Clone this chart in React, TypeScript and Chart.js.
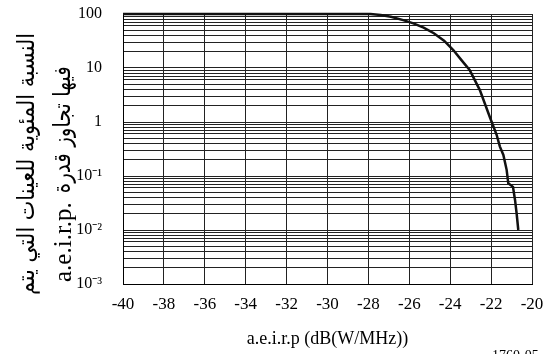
import { useEffect, useRef } from 'react';
import { Chart, registerables } from 'chart.js';

Chart.register(...registerables);

// ---- data ----
const X_VALUES = [-40, -28.4, -27.9, -27.4, -26.9, -26.3, -25.8, -25.3, -24.8, -24.3, -23.85, -23.45, -23.05, -22.55, -22.05, -21.73, -21.57, -21.4, -21.24, -21.16, -20.93, -20.83, -20.75, -20.67];
const Y_VALUES = [100, 100, 100, 96, 89, 77, 67, 56, 44, 32, 21.5, 14, 9.2, 3.9, 1.2, 0.58, 0.35, 0.245, 0.13, 0.073, 0.063, 0.036, 0.02, 0.01];

const X_MIN = -40;
const X_MAX = -20;
const X_STEP = 2;

const Y_DECADES = [0.001, 0.01, 0.1, 1, 10, 100];
const Y_DECADE_LABELS = ['10⁻³', '10⁻²', '10⁻¹', '1', '10', '100'];
const Y_MINOR_MULTIPLIERS = [2, 3, 4, 5, 6, 7, 8, 9];

const X_TITLE = 'a.e.i.r.p (dB(W/MHz))';
const Y_TITLE_LINE_1 = 'النسبة المئوية للعينات التي يتم';
const Y_TITLE_LINE_2_AR = 'فيها تجاوز قدرة';
const Y_TITLE_LINE_2_LAT = 'a.e.i.r.p.';
const FIGURE_ID = '1760-05';

const SERIF = "'Liberation Serif', 'Times New Roman', serif";
const ARABIC = "'DejaVu Sans', 'Noto Sans', sans-serif";

const yTitlePlugin = {
  id: 'yTitle',
  afterDraw(chart: any) {
    const ctx = chart.ctx;
    ctx.save();
    ctx.fillStyle = '#000';
    ctx.textBaseline = 'middle';

    // line 1 (outer): centred, compressed along its length to the reference span
    ctx.font = `24px ${ARABIC}`;
    const w1 = ctx.measureText(Y_TITLE_LINE_1).width;
    const len1 = 262;
    ctx.save();
    ctx.translate(28, 164);
    ctx.rotate(-Math.PI / 2);
    ctx.scale(len1 / w1, 1);
    ctx.textAlign = 'center';
    ctx.fillText(Y_TITLE_LINE_1, 0, 0);
    ctx.restore();

    // line 2: latin part from the bottom, then the arabic part
    ctx.save();
    ctx.translate(64, 282);
    ctx.rotate(-Math.PI / 2);
    ctx.textAlign = 'left';
    ctx.font = `25px ${SERIF}`;
    const wl = ctx.measureText(Y_TITLE_LINE_2_LAT).width;
    ctx.fillText(Y_TITLE_LINE_2_LAT, 0, 0);
    ctx.font = `24px ${ARABIC}`;
    const wa = ctx.measureText(Y_TITLE_LINE_2_AR).width;
    const lenA = 127;
    ctx.translate(wl + 9, 0);
    ctx.scale(lenA / wa, 1);
    ctx.fillText(Y_TITLE_LINE_2_AR, 0, 0);
    ctx.restore();

    ctx.restore();
  },
};

export default function App() {
  const canvasRef = useRef<HTMLCanvasElement | null>(null);

  useEffect(() => {
    const canvas = canvasRef.current;
    if (!canvas) return;
    const points = X_VALUES.map((x, i) => ({ x, y: Y_VALUES[i] }));
    const yTickValues: number[] = [];
    Y_DECADES.forEach((d, i) => {
      yTickValues.push(d);
      if (i < Y_DECADES.length - 1) Y_MINOR_MULTIPLIERS.forEach((m) => yTickValues.push(d * m));
    });
    yTickValues.sort((a, b) => a - b);

    const chart = new Chart(canvas, {
      type: 'line',
      data: {
        datasets: [
          {
            data: points,
            borderColor: '#111',
            borderWidth: 2.5,
            pointRadius: 0,
            tension: 0,
            fill: false,
            clip: 4,
          },
        ],
      },
      options: {
        animation: false,
        responsive: false,
        devicePixelRatio: 1,
        layout: { padding: { top: 14, right: 20, left: 0, bottom: 0 } },
        plugins: { legend: { display: false }, tooltip: { enabled: false } },
        scales: {
          x: {
            type: 'linear',
            min: X_MIN,
            max: X_MAX,
            ticks: {
              stepSize: X_STEP,
              color: '#000',
              font: { family: SERIF, size: 17 },
              padding: 10,
              callback: (v: any) => String(v),
            },
            grid: { color: '#222', lineWidth: 1, drawTicks: false },
            border: { color: '#000', width: 1 },
            title: {
              display: true,
              text: X_TITLE,
              color: '#000',
              font: { family: SERIF, size: 18 },
              padding: { top: 0, bottom: 4 },
            },
            afterFit: (s: any) => {
              s.height = 70;
              s.paddingLeft = 0;
              s.paddingRight = 0;
            },
          },
          y: {
            type: 'logarithmic',
            min: Y_DECADES[0],
            max: Y_DECADES[Y_DECADES.length - 1],
            afterBuildTicks: (s: any) => {
              s.ticks = yTickValues.map((v) => ({ value: v }));
            },
            ticks: {
              autoSkip: false,
              color: '#000',
              font: { family: SERIF, size: 16 },
              padding: 21,
              callback: (v: any) => {
                const idx = Y_DECADES.findIndex((d) => Math.abs(Math.log10(d) - Math.log10(Number(v))) < 1e-6);
                return idx >= 0 ? Y_DECADE_LABELS[idx] : '';
              },
            },
            grid: { color: '#222', lineWidth: 1, drawTicks: false },
            border: { color: '#000', width: 1 },
            afterFit: (s: any) => {
              s.width = 123;
              s.paddingTop = 0;
              s.paddingBottom = 0;
            },
          },
        },
      },
      plugins: [yTitlePlugin],
    } as any);
    return () => chart.destroy();
  }, []);

  return (
    <div style={{ position: 'fixed', left: 0, top: 0, width: 552, height: 354, background: '#fff', overflow: 'hidden' }}>
      <canvas ref={canvasRef} width={552} height={354} style={{ width: 552, height: 354, display: 'block' }} />
      <div style={{ position: 'absolute', left: 492, top: 348, fontFamily: SERIF, fontSize: 14, lineHeight: '16px', color: '#000', whiteSpace: 'nowrap' }}>
        {FIGURE_ID}
      </div>
    </div>
  );
}
